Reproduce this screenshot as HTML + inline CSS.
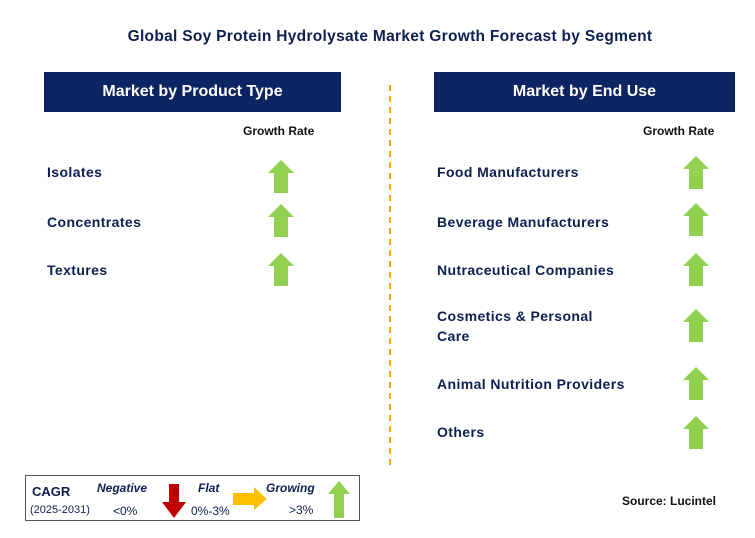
<!DOCTYPE html>
<html><head><meta charset="utf-8"><style>
body{margin:0;width:755px;height:538px;background:#fff;position:relative;font-family:"Liberation Sans",Arial,sans-serif;overflow:hidden}
.a{position:absolute}
.t{color:#0d1f4f;font-weight:bold;font-size:14px}
.hdr{position:absolute;background:#0d2462;color:#fff;font-weight:bold;font-size:16px;text-align:center;line-height:40px;height:40px}
.gr{position:absolute;font-size:12px;font-weight:bold;color:#111}
.lt{position:absolute;font-size:14px;font-weight:bold;color:#0d1f4f;line-height:20px;letter-spacing:0.4px}
</style></head><body>
<div class="a t" style="left:0;width:780px;top:28px;text-align:center;font-size:15.5px;letter-spacing:0.3px">Global Soy Protein Hydrolysate Market Growth Forecast by Segment</div>
<div class="hdr" style="left:44px;top:72px;width:297px">Market by Product Type</div>
<div class="hdr" style="left:434px;top:72px;width:301px">Market by End Use</div>
<div class="gr" style="left:243px;top:124px">Growth Rate</div>
<div class="gr" style="left:643px;top:124px">Growth Rate</div>
<svg class="a" style="left:0;top:0" width="755" height="538">
<line x1="390" y1="85" x2="390" y2="470" stroke="#f5a623" stroke-width="2" stroke-dasharray="6,5"/>
<g id="arrows"></g>
</svg>
<div class="lt" style="left:47px;top:162px">Isolates</div>
<div class="lt" style="left:47px;top:212px">Concentrates</div>
<div class="lt" style="left:47px;top:260px">Textures</div>
<div class="lt" style="left:437px;top:162px">Food Manufacturers</div>
<div class="lt" style="left:437px;top:212px">Beverage Manufacturers</div>
<div class="lt" style="left:437px;top:260px">Nutraceutical Companies</div>
<div class="lt" style="left:437px;top:306px">Cosmetics &amp; Personal<br>Care</div>
<div class="lt" style="left:437px;top:374px">Animal Nutrition Providers</div>
<div class="lt" style="left:437px;top:422px">Others</div>
<div class="a" style="left:25px;top:475px;width:335px;height:46px;border:1.5px solid #555;box-sizing:border-box">
<div class="a" style="left:6px;top:8px;font-size:13px;font-weight:bold;color:#0d1f4f">CAGR</div>
<div class="a" style="left:4px;top:28px;font-size:11px;color:#0d1f4f">(2025-2031)</div>
<div class="a" style="left:71px;top:5px;font-size:12px;font-weight:bold;font-style:italic;color:#0d1f4f">Negative</div>
<div class="a" style="left:87px;top:28px;font-size:12px;color:#0d1f4f">&lt;0%</div>
<div class="a" style="left:172px;top:5px;font-size:12px;font-weight:bold;font-style:italic;color:#0d1f4f">Flat</div>
<div class="a" style="left:165px;top:28px;font-size:12px;color:#0d1f4f">0%-3%</div>
<div class="a" style="left:240px;top:5px;font-size:12px;font-weight:bold;font-style:italic;color:#0d1f4f">Growing</div>
<div class="a" style="left:263px;top:27px;font-size:12px;color:#0d1f4f">&gt;3%</div>
<svg class="a" style="left:0;top:0" width="335" height="46">
<polygon points="143,8 153,8 153,26 160,26 148,42 136,26 143,26" fill="#c00000"/>
<polygon points="207,17 228,17 228,11 241,23 228,34 228,29 207,29" fill="#ffc000"/>
<polygon points="302,18 313,5 324,18 318,18 318,42 308,42 308,18" fill="#92d050"/>
</svg>
</div>
<div class="a" style="left:622px;top:494px;font-size:12px;font-weight:bold;color:#111">Source: Lucintel</div>
<script>
const leftCenters=[176,220,269];
const rightCenters=[172,219,269,325,383,432];
const g=document.getElementById('arrows');
function arrow(cx,cy){
  const p=document.createElementNS('http://www.w3.org/2000/svg','polygon');
  const t=cy-16,b=cy+17,h=t+13;
  p.setAttribute('points',`${cx},${t} ${cx+13},${h} ${cx+7},${h} ${cx+7},${b} ${cx-7},${b} ${cx-7},${h} ${cx-13},${h}`);
  p.setAttribute('fill','#92d050');
  
  
  g.appendChild(p);
}
leftCenters.forEach(c=>arrow(281,c));
rightCenters.forEach(c=>arrow(696,c));
</script>
</body></html>
